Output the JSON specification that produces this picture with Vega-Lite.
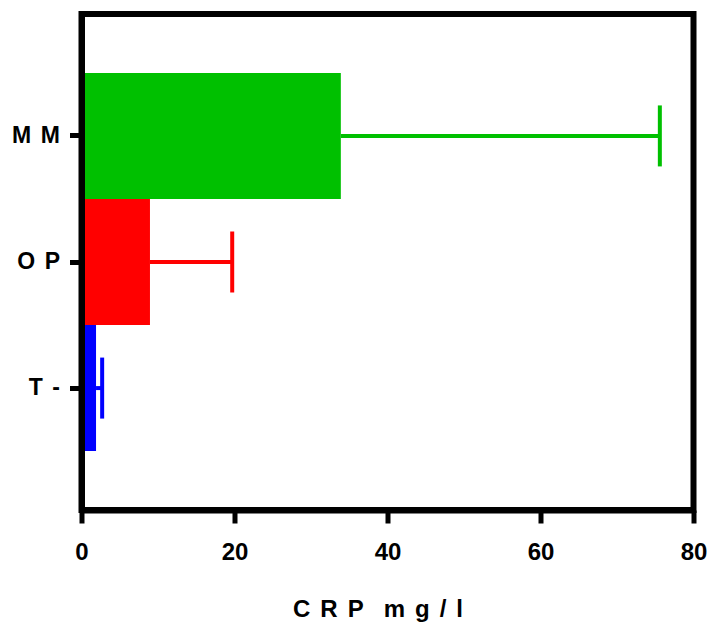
{
  "$schema": "https://vega.github.io/schema/vega-lite/v6.json",
  "autosize": "none",
  "width": 612,
  "height": 496,
  "padding": {"left": 81.5, "top": 14, "right": 14.5, "bottom": 118},
  "background": "white",
  "config": {
    "view": {"stroke": "black", "strokeWidth": 6},
    "font": "Liberation Sans"
  },
  "data": {
    "values": [
      {"group": "MM", "mean": 33.9, "upper": 75.6},
      {"group": "OP", "mean": 8.95, "upper": 19.7},
      {"group": "T-", "mean": 1.9, "upper": 2.7}
    ]
  },
  "encoding": {
    "y": {
      "field": "group",
      "type": "nominal",
      "sort": null,
      "scale": {"paddingInner": 0, "paddingOuter": 0.467},
      "axis": {
        "title": null,
        "zindex": 1,
        "domainColor": "black",
        "domainWidth": 6,
        "tickColor": "black",
        "tickWidth": 5,
        "tickSize": 12,
        "labelPadding": 10,
        "labelFont": "Liberation Sans",
        "labelFontSize": 23,
        "labelFontWeight": "bold",
        "labelColor": "black",
        "labelExpr": "join(split(datum.label, ''), '\u2004\u200a')"
      }
    },
    "color": {
      "field": "group",
      "type": "nominal",
      "scale": {"domain": ["MM", "OP", "T-"], "range": ["#00C000", "#FF0000", "#0000FF"]},
      "legend": null
    }
  },
  "layer": [
    {
      "mark": {"type": "bar", "opacity": 1},
      "encoding": {
        "x": {
          "field": "mean",
          "type": "quantitative",
          "scale": {"domain": [0, 80], "nice": false},
          "axis": {
            "title": "C\u2004\u200aR\u2004\u200aP\u2002\u2004m\u2004\u200ag\u2004\u200a/\u2004\u200al",
            "zindex": 1,
            "values": [0, 20, 40, 60, 80],
            "grid": false,
            "labelFlush": false,
            "domainColor": "black",
            "domainWidth": 6,
            "tickColor": "black",
            "tickWidth": 5,
            "tickSize": 13,
            "labelPadding": 17,
            "labelFont": "Liberation Sans",
            "labelFontSize": 24,
            "labelFontWeight": "bold",
            "labelColor": "black",
            "titleFont": "Liberation Sans",
            "titleFontSize": 24,
            "titleFontWeight": "bold",
            "titleColor": "black",
            "titleAlign": "center",
            "titleX": 296,
            "titlePadding": 33
          }
        }
      }
    },
    {
      "mark": {"type": "rule", "strokeWidth": 4},
      "encoding": {
        "x": {"field": "mean", "type": "quantitative"},
        "x2": {"field": "upper"}
      }
    },
    {
      "mark": {"type": "tick", "thickness": 4, "size": 61, "opacity": 1},
      "encoding": {
        "x": {"field": "upper", "type": "quantitative"}
      }
    }
  ]
}
